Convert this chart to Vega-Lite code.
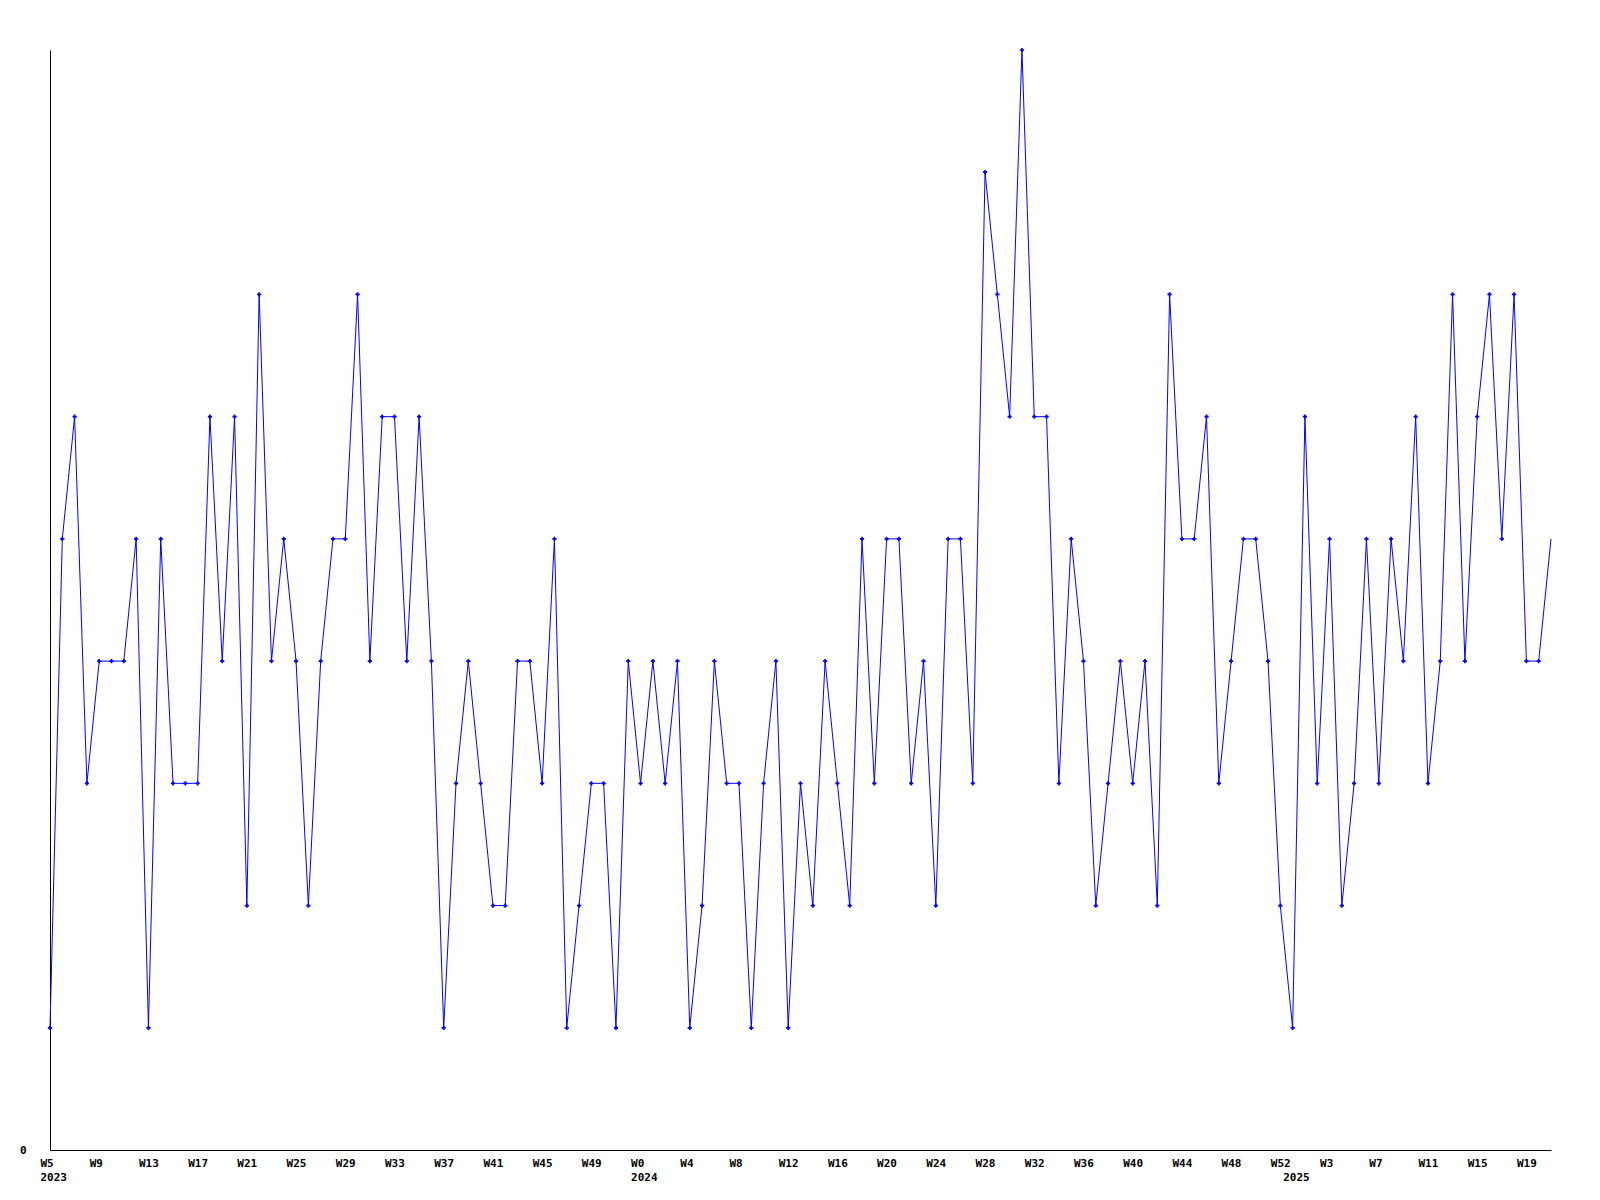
{
  "$schema": "https://vega.github.io/schema/vega-lite/v6.json",
  "width": 1501,
  "height": 1100,
  "autosize": "none",
  "padding": {"left": 50, "top": 50, "right": 49, "bottom": 50},
  "background": "white",
  "config": {"view": {"stroke": null}},
  "data": {"values": [
    {"week": "2023-W05", "count": 1}, {"week": "2023-W06", "count": 5}, {"week": "2023-W07", "count": 6}, {"week": "2023-W08", "count": 3},
    {"week": "2023-W09", "count": 4}, {"week": "2023-W10", "count": 4}, {"week": "2023-W11", "count": 4}, {"week": "2023-W12", "count": 5},
    {"week": "2023-W13", "count": 1}, {"week": "2023-W14", "count": 5}, {"week": "2023-W15", "count": 3}, {"week": "2023-W16", "count": 3},
    {"week": "2023-W17", "count": 3}, {"week": "2023-W18", "count": 6}, {"week": "2023-W19", "count": 4}, {"week": "2023-W20", "count": 6},
    {"week": "2023-W21", "count": 2}, {"week": "2023-W22", "count": 7}, {"week": "2023-W23", "count": 4}, {"week": "2023-W24", "count": 5},
    {"week": "2023-W25", "count": 4}, {"week": "2023-W26", "count": 2}, {"week": "2023-W27", "count": 4}, {"week": "2023-W28", "count": 5},
    {"week": "2023-W29", "count": 5}, {"week": "2023-W30", "count": 7}, {"week": "2023-W31", "count": 4}, {"week": "2023-W32", "count": 6},
    {"week": "2023-W33", "count": 6}, {"week": "2023-W34", "count": 4}, {"week": "2023-W35", "count": 6}, {"week": "2023-W36", "count": 4},
    {"week": "2023-W37", "count": 1}, {"week": "2023-W38", "count": 3}, {"week": "2023-W39", "count": 4}, {"week": "2023-W40", "count": 3},
    {"week": "2023-W41", "count": 2}, {"week": "2023-W42", "count": 2}, {"week": "2023-W43", "count": 4}, {"week": "2023-W44", "count": 4},
    {"week": "2023-W45", "count": 3}, {"week": "2023-W46", "count": 5}, {"week": "2023-W47", "count": 1}, {"week": "2023-W48", "count": 2},
    {"week": "2023-W49", "count": 3}, {"week": "2023-W50", "count": 3}, {"week": "2023-W51", "count": 1}, {"week": "2023-W52", "count": 4},
    {"week": "2024-W00", "count": 3}, {"week": "2024-W01", "count": 4}, {"week": "2024-W02", "count": 3}, {"week": "2024-W03", "count": 4},
    {"week": "2024-W04", "count": 1}, {"week": "2024-W05", "count": 2}, {"week": "2024-W06", "count": 4}, {"week": "2024-W07", "count": 3},
    {"week": "2024-W08", "count": 3}, {"week": "2024-W09", "count": 1}, {"week": "2024-W10", "count": 3}, {"week": "2024-W11", "count": 4},
    {"week": "2024-W12", "count": 1}, {"week": "2024-W13", "count": 3}, {"week": "2024-W14", "count": 2}, {"week": "2024-W15", "count": 4},
    {"week": "2024-W16", "count": 3}, {"week": "2024-W17", "count": 2}, {"week": "2024-W18", "count": 5}, {"week": "2024-W19", "count": 3},
    {"week": "2024-W20", "count": 5}, {"week": "2024-W21", "count": 5}, {"week": "2024-W22", "count": 3}, {"week": "2024-W23", "count": 4},
    {"week": "2024-W24", "count": 2}, {"week": "2024-W25", "count": 5}, {"week": "2024-W26", "count": 5}, {"week": "2024-W27", "count": 3},
    {"week": "2024-W28", "count": 8}, {"week": "2024-W29", "count": 7}, {"week": "2024-W30", "count": 6}, {"week": "2024-W31", "count": 9},
    {"week": "2024-W32", "count": 6}, {"week": "2024-W33", "count": 6}, {"week": "2024-W34", "count": 3}, {"week": "2024-W35", "count": 5},
    {"week": "2024-W36", "count": 4}, {"week": "2024-W37", "count": 2}, {"week": "2024-W38", "count": 3}, {"week": "2024-W39", "count": 4},
    {"week": "2024-W40", "count": 3}, {"week": "2024-W41", "count": 4}, {"week": "2024-W42", "count": 2}, {"week": "2024-W43", "count": 7},
    {"week": "2024-W44", "count": 5}, {"week": "2024-W45", "count": 5}, {"week": "2024-W46", "count": 6}, {"week": "2024-W47", "count": 3},
    {"week": "2024-W48", "count": 4}, {"week": "2024-W49", "count": 5}, {"week": "2024-W50", "count": 5}, {"week": "2024-W51", "count": 4},
    {"week": "2024-W52", "count": 2},
    {"week": "2025-W00", "count": 1}, {"week": "2025-W01", "count": 6}, {"week": "2025-W02", "count": 3}, {"week": "2025-W03", "count": 5},
    {"week": "2025-W04", "count": 2}, {"week": "2025-W05", "count": 3}, {"week": "2025-W06", "count": 5}, {"week": "2025-W07", "count": 3},
    {"week": "2025-W08", "count": 5}, {"week": "2025-W09", "count": 4}, {"week": "2025-W10", "count": 6}, {"week": "2025-W11", "count": 3},
    {"week": "2025-W12", "count": 4}, {"week": "2025-W13", "count": 7}, {"week": "2025-W14", "count": 4}, {"week": "2025-W15", "count": 6},
    {"week": "2025-W16", "count": 7}, {"week": "2025-W17", "count": 5}, {"week": "2025-W18", "count": 7}, {"week": "2025-W19", "count": 4},
    {"week": "2025-W20", "count": 4}, {"week": "2025-W21", "count": 5}
  ]},
  "encoding": {
    "x": {
      "field": "week", "type": "ordinal",
      "scale": {"type": "point", "padding": 0},
      "axis": {
        "title": null,
        "values": ["2023-W05","2023-W09","2023-W13","2023-W17","2023-W21","2023-W25","2023-W29","2023-W33","2023-W37","2023-W41","2023-W45","2023-W49",
                   "2024-W00","2024-W04","2024-W08","2024-W12","2024-W16","2024-W20","2024-W24","2024-W28","2024-W32","2024-W36","2024-W40","2024-W44","2024-W48","2024-W52",
                   "2025-W00","2025-W03","2025-W07","2025-W11","2025-W15","2025-W19"],
        "labelExpr": "datum.value == '2025-W00' ? ['', '2025'] : (indexof(['2023-W05','2024-W00'], datum.value) >= 0 ? ['W' + toNumber(substring(datum.value, 6, 8)), substring(datum.value, 0, 4)] : 'W' + toNumber(substring(datum.value, 6, 8)))",
        "labelAngle": 0,
        "labelAlign": "left",
        "labelOffset": -10,
        "labelFont": "DejaVu Sans Mono",
        "labelFontWeight": "bold",
        "labelFontSize": 11,
        "labelColor": "black",
        "labelLineHeight": 14,
        "labelPadding": 7,
        "labelOverlap": false,
        "labelBound": false,
        "labelFlush": false,
        "ticks": false,
        "tickSize": 0,
        "domainColor": "black",
        "domainWidth": 1,
        "grid": false
      }
    },
    "y": {
      "field": "count", "type": "quantitative",
      "scale": {"domain": [0, 9], "nice": false, "zero": true},
      "axis": {
        "title": null,
        "values": [0],
        "labelFont": "DejaVu Sans Mono",
        "labelFontWeight": "bold",
        "labelFontSize": 11,
        "labelColor": "black",
        "labelPadding": 24,
        "ticks": false,
        "tickSize": 0,
        "domainColor": "black",
        "domainWidth": 1,
        "grid": false
      }
    }
  },
  "layer": [
    {"mark": {"type": "line", "color": "#0000ff", "strokeWidth": 1}},
    {"transform": [{"filter": "datum.week != '2025-W21'"}],
     "mark": {"type": "point", "shape": "cross", "filled": true, "color": "#0000ff", "size": 18, "opacity": 1}}
  ]
}
